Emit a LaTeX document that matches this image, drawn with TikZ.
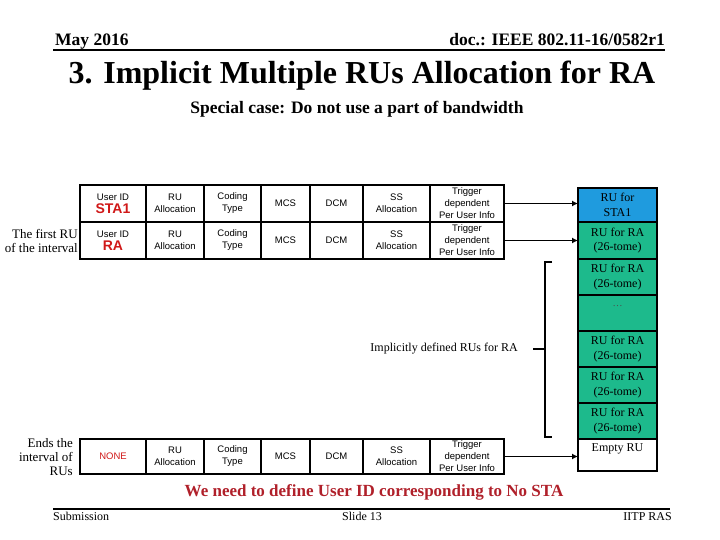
\documentclass[tikz,border=0pt]{standalone}
\usepackage{fontspec}
\setmainfont{Liberation Serif}
\setsansfont{Liberation Sans}
\usetikzlibrary{arrows.meta,positioning}
\definecolor{RuBlue}{HTML}{1F9BDE}
\definecolor{RuGreen}{HTML}{1DBA8C}
\definecolor{IdRed}{HTML}{D01818}
\definecolor{NoteRed}{HTML}{B0202A}

\tikzset{
  cell/.style={draw,line width=1.8pt,minimum height=37pt,inner sep=0pt,outer sep=0pt,
    align=center,font=\sffamily\fontsize{9.5}{12}\selectfont},
  rubox/.style={draw,line width=1.8pt,fill=RuGreen,minimum width=79pt,minimum height=36pt,
    inner sep=0pt,outer sep=0pt,align=center,font=\fontsize{12}{14.5}\selectfont},
  link/.style={-{Latex[length=6pt,width=6pt]},line width=1.7pt},
  side/.style={align=right,anchor=east,inner sep=0pt,font=\fontsize{13}{14}\selectfont},
}

\begin{document}
\begin{tikzpicture}[x=1pt,y=-1pt]
  \useasboundingbox (0,0) rectangle (720,540);

  % header and title
  \node[anchor=base west,inner sep=0pt,font=\bfseries\fontsize{17.5}{20}\selectfont] (date) at (55,46) {May 2016};
  \node[anchor=base east,inner sep=0pt,font=\bfseries\fontsize{17.5}{20}\selectfont] (doc) at (665,46) {doc.: IEEE 802.11-16/0582r1};
  \draw[line width=2.2pt] (53,50) -- (665,50);
  \node[font=\bfseries\fontsize{32}{36}\selectfont] (title) at (362,76) {3. Implicit Multiple RUs Allocation for RA};
  \node[font=\bfseries\fontsize{17.5}{20}\selectfont] (sub) at (357,109) {Special case: Do not use a part of bandwidth};

  % first row
  \node[cell,minimum width=66pt] (id1) at (113,203.5) {User ID\\[1pt]{\fontsize{14}{15}\selectfont\bfseries\color{IdRed}STA1}};
  \node[cell,minimum width=58pt,right=0pt of id1] (ru1) {RU\\Allocation};
  \node[cell,minimum width=57pt,right=0pt of ru1] (cod1) {Coding\\Type};
  \node[cell,minimum width=49pt,right=0pt of cod1] (mcs1) {MCS};
  \node[cell,minimum width=53pt,right=0pt of mcs1] (dcm1) {DCM};
  \node[cell,minimum width=67pt,right=0pt of dcm1] (ss1) {SS\\Allocation};
  \node[cell,minimum width=74pt,right=0pt of ss1] (trig1) {Trigger\\dependent\\Per User Info};

  % second row
  \node[cell,minimum width=66pt] (id2) at (113,240.5) {User ID\\[1pt]{\fontsize{14}{15}\selectfont\bfseries\color{IdRed}RA}};
  \node[cell,minimum width=58pt,right=0pt of id2] (ru2) {RU\\Allocation};
  \node[cell,minimum width=57pt,right=0pt of ru2] (cod2) {Coding\\Type};
  \node[cell,minimum width=49pt,right=0pt of cod2] (mcs2) {MCS};
  \node[cell,minimum width=53pt,right=0pt of mcs2] (dcm2) {DCM};
  \node[cell,minimum width=67pt,right=0pt of dcm2] (ss2) {SS\\Allocation};
  \node[cell,minimum width=74pt,right=0pt of ss2] (trig2) {Trigger\\dependent\\Per User Info};

  % last row
  \node[cell,minimum height=35pt,minimum width=66pt] (id3) at (113,456.5) {\color{IdRed}NONE};
  \node[cell,minimum height=35pt,minimum width=58pt,right=0pt of id3] (ru3) {RU\\Allocation};
  \node[cell,minimum height=35pt,minimum width=57pt,right=0pt of ru3] (cod3) {Coding\\Type};
  \node[cell,minimum height=35pt,minimum width=49pt,right=0pt of cod3] (mcs3) {MCS};
  \node[cell,minimum height=35pt,minimum width=53pt,right=0pt of mcs3] (dcm3) {DCM};
  \node[cell,minimum height=35pt,minimum width=67pt,right=0pt of dcm3] (ss3) {SS\\Allocation};
  \node[cell,minimum height=35pt,minimum width=74pt,right=0pt of ss3] (trig3) {Trigger\\dependent\\Per User Info};

  \node[side] (first) at (78,241) {The first RU\\of the interval};
  \node[side] (ends) at (73,457) {Ends the\\interval of\\RUs};

  % RU column
  \node[rubox,fill=RuBlue,minimum height=34pt] (rusta) at (617.5,205) {RU for\\STA1};
  \node[rubox,minimum height=37pt,below=0pt of rusta] (rura1) {RU for RA\\(26-tome)};
  \node[rubox,below=0pt of rura1] (rura2) {RU for RA\\(26-tome)};
  \node[rubox,below=0pt of rura2] (dots) {{\fontsize{10}{12}\selectfont\color{black!70}\ldots}\\\mbox{}};
  \node[rubox,below=0pt of dots] (rura3) {RU for RA\\(26-tome)};
  \node[rubox,below=0pt of rura3] (rura4) {RU for RA\\(26-tome)};
  \node[rubox,below=0pt of rura4] (rura5) {RU for RA\\(26-tome)};
  \node[rubox,fill=white,minimum height=32pt,below=0pt of rura5] (empty) {Empty RU\\\mbox{}};

  \draw[link] (trig1.east) -- (trig1.east -| rusta.west);
  \draw[link] (trig2.east) -- (trig2.east -| rura1.west);
  \draw[link] (trig3.east) -- (trig3.east -| empty.west);

  % bracket
  \coordinate (tip) at (533,349);
  \draw[line width=1.8pt] (552,262) -- (545,262) -- (545,437) -- (552,437);
  \draw[line width=1.8pt] (545,349) -- (tip);
  \node[left=15pt of tip,inner sep=0pt,font=\fontsize{12}{14}\selectfont] (impl) {Implicitly defined RUs for RA};

  \node[text=NoteRed,font=\bfseries\fontsize{17}{20}\selectfont] (note) at (374,492) {We need to define User ID corresponding to No STA};

  % footer
  \draw[line width=2.2pt] (53,509) -- (670,509);
  \node[anchor=base west,inner sep=0pt,font=\fontsize{12}{14}\selectfont] (subm) at (53,520) {Submission};
  \node[anchor=base,inner sep=0pt,font=\fontsize{12}{14}\selectfont] (slide) at (362,520) {Slide 13};
  \node[anchor=base east,inner sep=0pt,font=\fontsize{12}{14}\selectfont] (iitp) at (672,520) {IITP RAS};
\end{tikzpicture}
\end{document}
